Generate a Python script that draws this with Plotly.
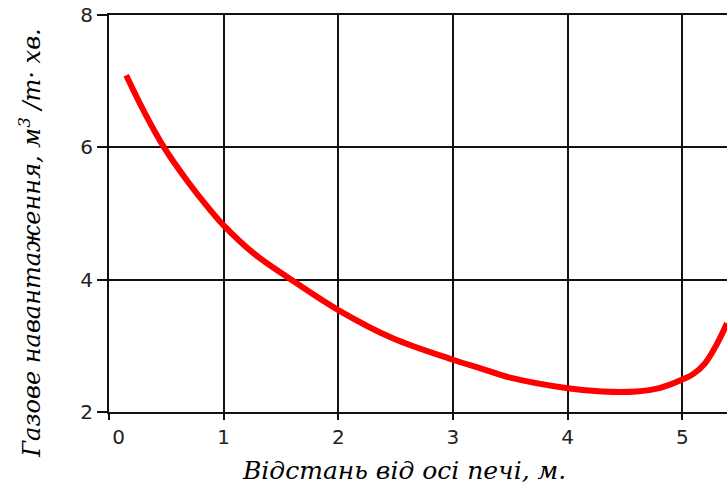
import plotly.graph_objects as go

# Gas load vs. distance from the kiln axis
distance = [0.15, 0.30, 0.48, 0.68, 0.86, 1.00, 1.26, 1.59, 2.00, 2.48, 3.00, 3.24,
            3.50, 4.00, 4.30, 4.60, 4.80, 5.00, 5.10, 5.20, 5.30, 5.39]
gas_load = [7.09, 6.56, 6.00, 5.50, 5.10, 4.82, 4.40, 4.00, 3.54, 3.11, 2.79, 2.66,
            2.52, 2.36, 2.31, 2.31, 2.36, 2.49, 2.58, 2.74, 3.02, 3.34]

x_ticks = [0, 1, 2, 3, 4, 5]
x_tick_text = ["\u00a0\u00a0\u00a00", "1", "2", "3", "4", "5"]
y_ticks = [2, 4, 6, 8]

W, H = 727, 492
L, R, T, B = 108.5, 0, 14.5, 80

fig = go.Figure()
fig.add_trace(go.Scatter(
    x=distance, y=gas_load, mode="lines",
    line=dict(color="#ff0000", width=6, shape="spline", smoothing=1.0),
    showlegend=False,
))

tick_font = dict(family="DejaVu Sans", size=20, color="#222222")
fig.update_xaxes(
    range=[0, 5.39], tickvals=x_ticks, ticktext=x_tick_text,
    showgrid=True, gridcolor="#111111", gridwidth=2,
    showline=True, linecolor="#111111", linewidth=2, mirror=True,
    ticks="outside", ticklen=6, tickwidth=2, tickcolor="#111111",
    zeroline=False, tickfont=tick_font,
)
fig.update_yaxes(
    range=[2, 8], tickvals=y_ticks,
    showgrid=True, gridcolor="#111111", gridwidth=2,
    showline=True, linecolor="#111111", linewidth=2, mirror=False,
    ticks="outside", ticklen=10, tickwidth=2, tickcolor="#111111",
    ticklabelstandoff=0,
    zeroline=False, tickfont=tick_font,
)

pw = W - L - R
ph = H - T - B
fig.add_annotation(
    text="Відстань від осі печі, м.",
    xref="paper", yref="paper",
    x=(404 - L) / pw, y=(H - B - 471) / ph,
    xanchor="center", yanchor="middle", showarrow=False,
    font=dict(family="DejaVu Serif", size=25, color="#000000", style="italic"),
)
fig.add_annotation(
    text="Газове навантаження, м<sup>3</sup> /т· хв.",
    xref="paper", yref="paper",
    x=(30 - L) / pw, y=(H - B - 243) / ph,
    xanchor="center", yanchor="middle", textangle=-90, showarrow=False,
    font=dict(family="DejaVu Serif", size=24, color="#000000", style="italic"),
)

fig.update_layout(
    width=W, height=H,
    margin=dict(l=L, r=R, t=T, b=B, pad=0),
    paper_bgcolor="white", plot_bgcolor="white",
)

fig.write_html("out.html")
